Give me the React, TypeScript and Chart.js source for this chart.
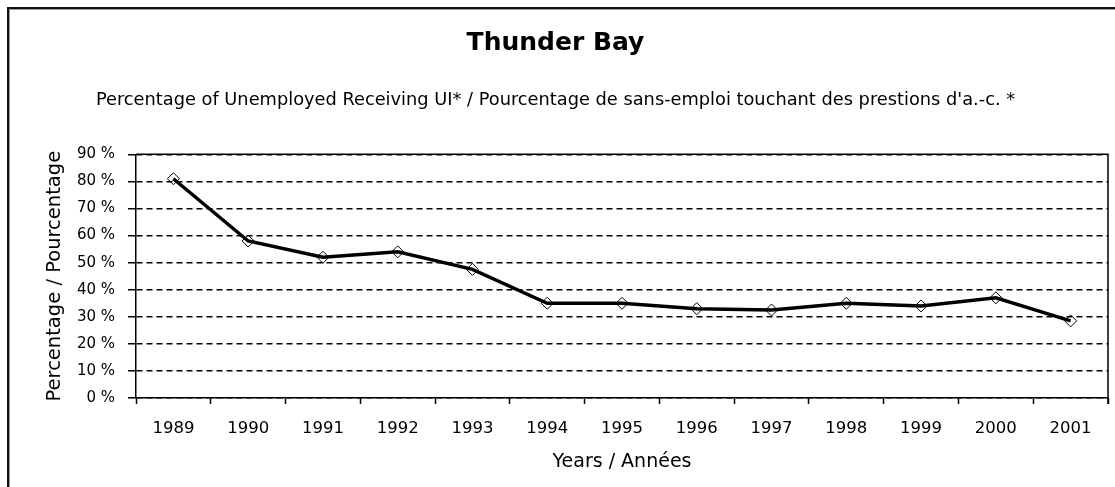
import React, { useEffect, useRef } from "react";
import { Chart, registerables } from "chart.js";

Chart.register(...registerables);

const years: string[] = ["1989", "1990", "1991", "1992", "1993", "1994", "1995", "1996", "1997", "1998", "1999", "2000", "2001"];
const receivingUI: number[] = [81, 58, 52, 54, 47.5, 35, 35, 33, 32.5, 35, 34, 37, 28.5];
const yTicks: number[] = [0, 10, 20, 30, 40, 50, 60, 70, 80, 90];

const chartTitle = "Thunder Bay";
const chartSubtitle = "Percentage of Unemployed Receiving UI* / Pourcentage de sans-emploi touchant des prestions d'a.-c. *";
const xTitle = "Years / Années";
const yTitle = "Percentage / Pourcentage";

const FONT = "'DejaVu Sans', Verdana, sans-serif";

const framePlugin = {
  id: "frame",
  beforeDraw(chart: any) {
    const { ctx, width, height } = chart;
    ctx.save();
    ctx.fillStyle = "#ffffff";
    ctx.fillRect(0, 0, width, height);
    ctx.strokeStyle = "#111";
    ctx.lineWidth = 2;
    ctx.beginPath();
    ctx.moveTo(8, height + 5);
    ctx.lineTo(8, 8);
    ctx.lineTo(width + 5, 8);
    ctx.stroke();
    ctx.strokeStyle = "#999";
    ctx.lineWidth = 1;
    ctx.beginPath();
    ctx.moveTo(9.5, height + 5);
    ctx.lineTo(9.5, 9.5);
    ctx.lineTo(width + 5, 9.5);
    ctx.stroke();
    ctx.restore();
  },
  afterDatasetsDraw(chart: any) {
    const { ctx, chartArea } = chart;
    ctx.save();
    ctx.strokeStyle = "#000";
    ctx.lineWidth = 1.5;
    ctx.beginPath();
    ctx.moveTo(chartArea.left, chartArea.top);
    ctx.lineTo(chartArea.right, chartArea.top);
    ctx.lineTo(chartArea.right, chartArea.bottom + 6);
    ctx.stroke();
    ctx.restore();
  },
};

export default function App() {
  const canvasRef = useRef<HTMLCanvasElement | null>(null);

  useEffect(() => {
    if (!canvasRef.current) return;
    Chart.defaults.font.family = FONT;
    Chart.defaults.color = "#000";
    const chart = new Chart(canvasRef.current, {
      type: "line",
      data: {
        labels: years,
        datasets: [
          {
            label: "Receiving UI",
            data: receivingUI,
            borderColor: "#000",
            borderWidth: 3.5,
            pointStyle: "rectRot",
            pointRadius: 6,
            pointBorderColor: "#000",
            pointBackgroundColor: "rgba(255,255,255,0)",
            pointBorderWidth: 1,
            tension: 0,
            fill: false,
          },
        ],
      },
      options: {
        responsive: false,
        animation: false,
        layout: { padding: { left: 0, right: 4, top: 0, bottom: 0 } },
        plugins: {
          legend: { display: false },
          tooltip: { enabled: false },
          title: {
            display: true,
            text: chartTitle,
            color: "#000",
            font: { family: FONT, size: 25, weight: "bold", lineHeight: 1.2 },
            padding: { top: 28, bottom: 0 },
          },
          subtitle: {
            display: true,
            text: chartSubtitle,
            color: "#000",
            font: { family: FONT, size: 17.8, weight: "normal", lineHeight: 1.2 },
            padding: { top: 31.5, bottom: 43.5 },
          },
        },
        scales: {
          x: {
            type: "category",
            offset: true,
            afterFit(scale: any) {
              scale.height = 89;
            },
            grid: {
              offset: true,
              drawOnChartArea: false,
              drawTicks: true,
              tickLength: 6,
              tickColor: "#000",
              tickWidth: 1.5,
            },
            border: { display: true, color: "#000", width: 1.5 },
            ticks: {
              color: "#000",
              font: { family: FONT, size: 16.5 },
              padding: 15,
              maxRotation: 0,
              autoSkip: false,
            },
            title: {
              display: true,
              text: xTitle,
              color: "#000",
              font: { family: FONT, size: 19 },
              padding: { top: 4, bottom: 13.5 },
            },
          },
          y: {
            min: 0,
            max: 90,
            afterFit(scale: any) {
              scale.width = 136;
            },
            afterBuildTicks(scale: any) {
              scale.ticks = yTicks.map((v) => ({ value: v }));
            },
            grid: {
              color: "#000",
              lineWidth: 1.5,
              drawTicks: true,
              tickLength: 8,
              tickColor: "#000",
              tickWidth: 1.5,
              tickBorderDash: [],
            },
            border: { display: true, color: "#000", width: 1.5, dash: [6, 4] },
            ticks: {
              color: "#000",
              font: { family: FONT, size: 15 },
              padding: 13,
              callback: (v: any) => `${v} %`,
            },
            title: {
              display: true,
              text: yTitle,
              color: "#000",
              font: { family: FONT, size: 19.5 },
              padding: { top: 43, bottom: 0 },
            },
          },
        },
      },
      plugins: [framePlugin],
    } as any);
    return () => chart.destroy();
  }, []);

  return (
    <div style={{ position: "fixed", left: 0, top: 0, width: 1115, height: 487, background: "#fff" }}>
      <canvas ref={canvasRef} width={1115} height={487} />
    </div>
  );
}
